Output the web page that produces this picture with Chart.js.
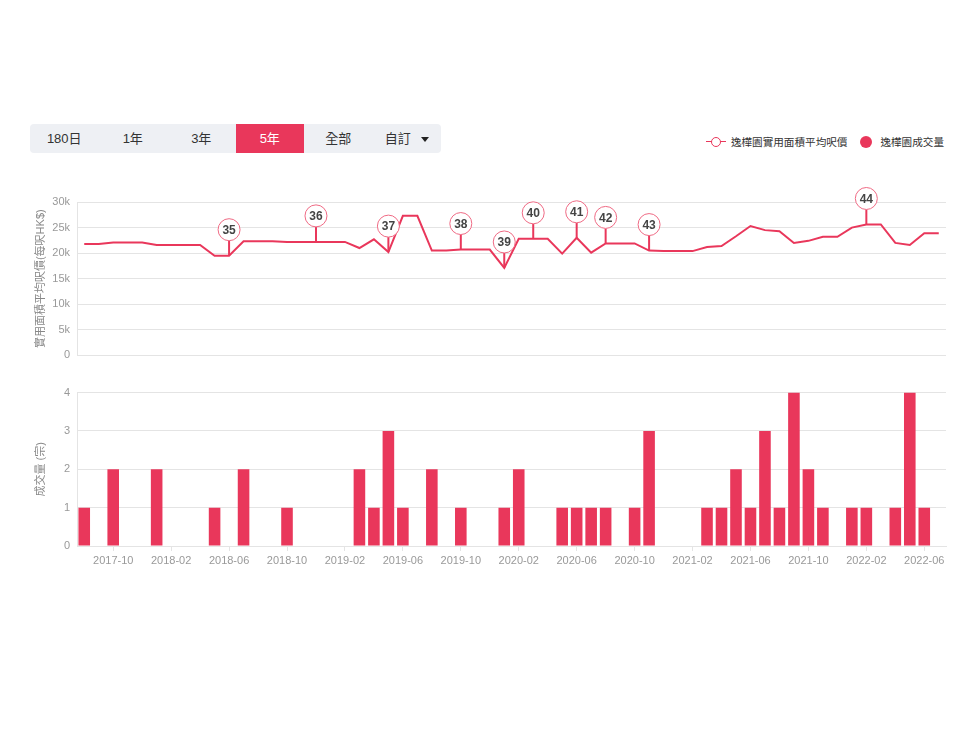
<!DOCTYPE html>
<html>
<head>
<meta charset="utf-8">
<script src="https://cdn.jsdelivr.net/npm/chart.js@4"></script>
<style>
  body { margin: 0; background: #fff; font-family: "Liberation Sans", "Noto Sans CJK TC", sans-serif; }
  #page { position: relative; width: 960px; height: 745px; }
  .tabs { position: absolute; left: 30px; top: 124px; width: 411px; height: 29px; background: #eef0f4; border-radius: 4px; display: flex; overflow: hidden; }
  .tabs div { flex: 1; text-align: center; line-height: 29px; font-size: 13px; color: #333; }
  .tabs .active { background: #e9375b; color: #fff; }
  .tabs .caret { display: inline-block; margin-left: 10px; width: 0; height: 0; border-left: 4px solid transparent; border-right: 4px solid transparent; border-top: 5px solid #222; vertical-align: middle; }
  .legend { position: absolute; right: 16px; top: 134px; font-size: 10.6px; color: #333; display: flex; align-items: center; }
  .legend .lineicon { position: relative; width: 20px; height: 12px; margin-right: 5px; }
  .legend .lineicon:before { content: ""; position: absolute; left: 0; right: 0; top: 5px; height: 1.5px; background: #e9375b; }
  .legend .lineicon:after { content: ""; position: absolute; left: 5px; top: 1px; width: 8px; height: 8px; border: 1.5px solid #e9375b; border-radius: 50%; background: #fff; }
  .legend .dot { width: 12px; height: 12px; border-radius: 50%; background: #e9375b; margin: 0 8px 0 13px; }
  canvas { position: absolute; }
</style>
</head>
<body>
<div id="page">
  <div class="tabs">
    <div>180日</div><div>1年</div><div>3年</div><div class="active">5年</div><div>全部</div><div>自訂<span class="caret"></span></div>
  </div>
  <div class="legend">
    <span class="lineicon"></span><span>逸樺園實用面積平均呎價</span>
    <span class="dot"></span><span>逸樺園成交量</span>
  </div>
  <canvas id="priceChart" style="left:20px; top:180px; width:940px; height:189px;"></canvas>
  <canvas id="volumeChart" style="left:20px; top:379px; width:940px; height:201px;"></canvas>
</div>
<script>
// months 2017-08 .. 2022-07
const months = [
  '2017-08','2017-09','2017-10','2017-11','2017-12',
  '2018-01','2018-02','2018-03','2018-04','2018-05','2018-06','2018-07','2018-08','2018-09','2018-10','2018-11','2018-12',
  '2019-01','2019-02','2019-03','2019-04','2019-05','2019-06','2019-07','2019-08','2019-09','2019-10','2019-11','2019-12',
  '2020-01','2020-02','2020-03','2020-04','2020-05','2020-06','2020-07','2020-08','2020-09','2020-10','2020-11','2020-12',
  '2021-01','2021-02','2021-03','2021-04','2021-05','2021-06','2021-07','2021-08','2021-09','2021-10','2021-11','2021-12',
  '2022-01','2022-02','2022-03','2022-04','2022-05','2022-06','2022-07'
];

// average price per sq ft (HK$)
const avgPrice = [
  21800, 21800, 22100, 22100, 22100,
  21600, 21600, 21600, 21600, 19500, 19500, 22300, 22300, 22300, 22200, 22200, 22200,
  22200, 22200, 21000, 22700, 20200, 27300, 27300, 20500, 20500, 20700, 20700, 20700,
  17100, 22800, 22800, 22800, 19900, 23000, 20100, 21900, 21900, 21900, 20500, 20400,
  20400, 20400, 21200, 21400, 23300, 25300, 24500, 24300, 22000, 22400, 23200, 23200,
  25000, 25600, 25600, 22000, 21600, 23900, 23900
];

// number of transactions
const volume = [
  1, 0, 2, 0, 0,
  2, 0, 0, 0, 1, 0, 2, 0, 0, 1, 0, 0,
  0, 0, 2, 1, 3, 1, 0, 2, 0, 1, 0, 0,
  1, 2, 0, 0, 1, 1, 1, 1, 0, 1, 3, 0,
  0, 0, 1, 1, 2, 1, 3, 1, 4, 2, 1, 0,
  1, 1, 0, 1, 4, 1, 0
];

// numbered pins on the price line
const pinMonths = ['2018-06','2018-12','2019-05','2019-10','2020-01','2020-03','2020-06','2020-08','2020-11','2022-02'];
const pinLabels = ['35','36','37','38','39','40','41','42','43','44'];

const red = '#e9375b';
const gridColor = '#e4e4e4';
const tickColor = '#999';
const fontFamily = '"Liberation Sans", "Noto Sans CJK TC", sans-serif';

Chart.defaults.font.family = fontFamily;
Chart.defaults.animation = false;

function fixedWidth(scale) { scale.width = 57; }

// draws the numbered pins above the line points
const pinPlugin = {
  id: 'pins',
  afterDatasetsDraw(chart) {
    const ctx = chart.ctx;
    const xs = chart.scales.x, ys = chart.scales.y;
    ctx.save();
    pinMonths.forEach((m, k) => {
      const i = months.indexOf(m);
      const px = xs.getPixelForValue(i);
      const py = ys.getPixelForValue(avgPrice[i]);
      const cy = py - 26;
      ctx.strokeStyle = red;
      ctx.lineWidth = 2;
      ctx.beginPath();
      ctx.moveTo(px, py);
      ctx.lineTo(px, cy + 11);
      ctx.stroke();
      ctx.beginPath();
      ctx.arc(px, cy, 11, 0, Math.PI * 2);
      ctx.fillStyle = '#fff';
      ctx.fill();
      ctx.lineWidth = 1;
      ctx.strokeStyle = '#ef6a84';
      ctx.stroke();
      ctx.fillStyle = '#444';
      ctx.font = 'bold 12px ' + fontFamily;
      ctx.textAlign = 'center';
      ctx.textBaseline = 'middle';
      ctx.fillText(pinLabels[k], px, cy + 1);
    });
    ctx.restore();
  }
};

new Chart(document.getElementById('priceChart'), {
  type: 'line',
  data: {
    labels: months,
    datasets: [{
      label: '逸樺園實用面積平均呎價',
      data: avgPrice,
      borderColor: red,
      borderWidth: 2,
      pointRadius: 0,
      tension: 0,
      fill: false
    }]
  },
  options: {
    responsive: false,
    layout: { padding: { top: 22, bottom: 11, left: 0, right: 14 } },
    plugins: { legend: { display: false }, tooltip: { enabled: false } },
    scales: {
      x: { display: false, offset: true },
      y: {
        min: 0, max: 30000,
        afterFit: fixedWidth,
        ticks: {
          stepSize: 5000, color: tickColor, font: { size: 11 }, padding: 7,
          callback: v => v === 0 ? '0' : (v / 1000) + 'k'
        },
        grid: { color: gridColor, drawTicks: false },
        border: { color: gridColor },
        title: { display: true, text: '實用面積平均呎價(每呎HK$)', color: '#888', font: { size: 11 }, padding: { top: 14, bottom: 0 } }
      }
    }
  },
  plugins: [pinPlugin]
});

new Chart(document.getElementById('volumeChart'), {
  type: 'bar',
  data: {
    labels: months,
    datasets: [{
      label: '逸樺園成交量',
      data: volume,
      backgroundColor: red,
      barPercentage: 0.8,
      categoryPercentage: 1
    }]
  },
  options: {
    responsive: false,
    layout: { padding: { top: 12, bottom: 4, left: 0, right: 14 } },
    plugins: { legend: { display: false }, tooltip: { enabled: false } },
    scales: {
      x: {
        afterFit: s => { s.height = 30; },
        ticks: {
          autoSkip: false, maxRotation: 0, color: tickColor, font: { size: 11 }, padding: 3,
          callback: (v, i) => (i - 2) % 4 === 0 ? months[i] : null
        },
        grid: { drawOnChartArea: false, offset: false, color: gridColor, tickLength: 5 },
        border: { color: gridColor }
      },
      y: {
        min: 0, max: 4,
        afterFit: fixedWidth,
        ticks: { stepSize: 1, color: tickColor, font: { size: 11 }, padding: 7 },
        grid: { color: gridColor, drawTicks: false },
        border: { color: gridColor },
        title: { display: true, text: '成交量 (宗)', color: '#888', font: { size: 11 }, padding: { top: 14, bottom: 0 } }
      }
    }
  }
});
</script>
</body>
</html>
